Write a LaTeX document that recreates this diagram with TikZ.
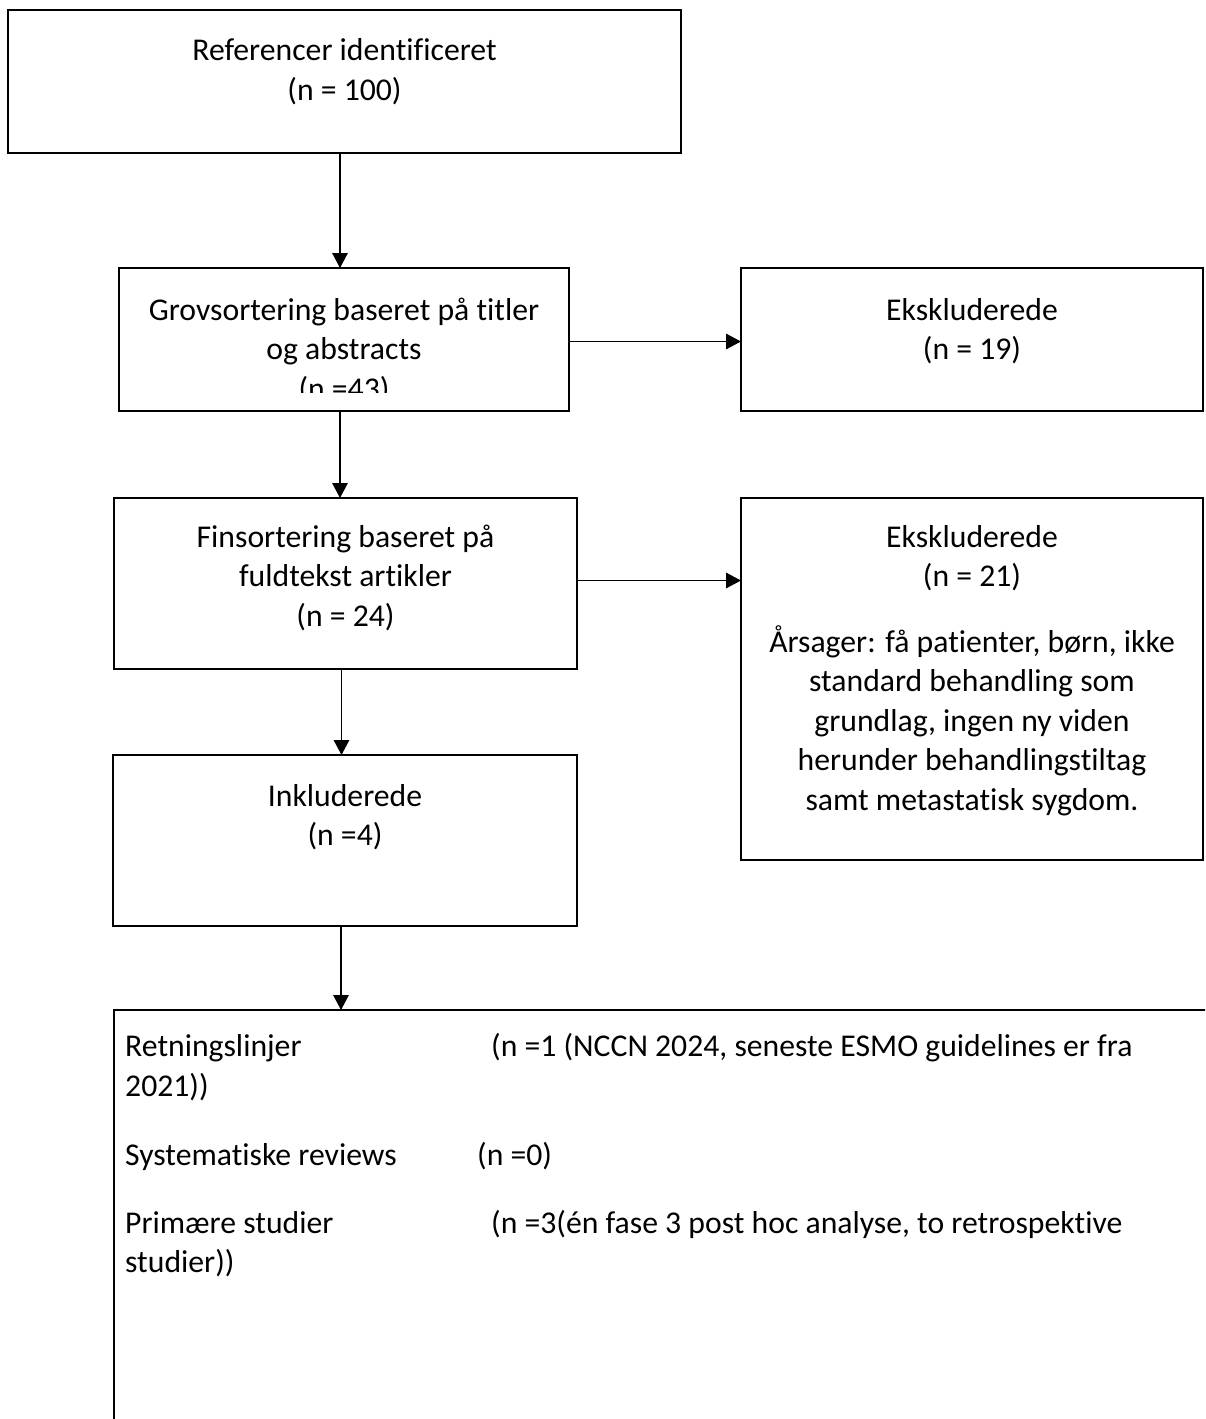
\documentclass[tikz,border=0pt]{standalone}
\usepackage{fontspec}
\setmainfont{Carlito}[Ligatures=NoCommon]
\usetikzlibrary{positioning,arrows.meta}

\begin{document}
\begin{tikzpicture}[
x=1pt, y=-1pt,
box/.style={draw, line width=1.8pt, inner sep=0pt, outer sep=0pt},
txt/.style={align=center, inner sep=0pt, font=\fontsize{31.7}{39.5}\selectfont},
line/.style={inner sep=0pt, anchor=base west, font=\fontsize{31.7}{39.5}\selectfont},
arr/.style={line width=1.5pt, -{Triangle[length=15pt,width=15.5pt]}}
]
\clip (0,0) rectangle (1205,1419);

% boxes
\node[box, minimum width=673pt, minimum height=143pt] (ref) at (344.5,81.5) {};
\node[box, minimum width=450pt, minimum height=143pt] (gro) at (344,339.5) {};
\node[box, minimum width=462pt, minimum height=143pt] (eks1) at (972,339.5) {};
\node[box, minimum width=463pt, minimum height=171pt] (fin) at (345.5,583.5) {};
\node[box, minimum width=462pt, minimum height=362pt] (eks2) at (972,679) {};
\node[box, minimum width=464pt, minimum height=171pt] (ink) at (345,840.5) {};
\node[box, minimum width=1101pt, minimum height=420pt] (res) at (664.5,1220) {};

% texts
\node[txt, below=23pt of ref.north] (refT) {\strut Referencer identificeret\\(n = 100)};
\begin{scope}
\clip (gro.north west) rectangle ([yshift=19pt]gro.south east);
\node[txt, below=24.35pt of gro.north] (groT) {\strut Grovsortering baseret på titler\\og abstracts\\(n =43)};
\end{scope}
\node[txt, below=24.35pt of eks1.north] (eks1T) {\strut Ekskluderede\\(n = 19)};
\node[txt, below=21.35pt of fin.north] (finT) {\strut Finsortering baseret på\\fuldtekst artikler\\(n = 24)};
\node[txt, below=21.35pt of eks2.north] (eks2T) {\strut Ekskluderede\\(n = 21)\\[26pt]Årsager: få patienter, børn, ikke\\standard behandling som\\grundlag, ingen ny viden\\herunder behandlingstiltag\\samt metastatisk sygdom.};
\node[txt, below=23.35pt of ink.north] (inkT) {\strut Inkluderede\\(n =4)};

\node[line] (retL) at (125,1056) {Retningslinjer};
\node[line] (retN) at (491,1056) {(n =1 (NCCN 2024, seneste ESMO guidelines er fra};
\node[line] (retY) at (125,1096) {2021))};
\node[line] (sysL) at (125,1165) {Systematiske reviews};
\node[line] (sysN) at (477,1165) {(n =0)};
\node[line] (priL) at (125,1233) {Primære studier};
\node[line] (priN) at (491,1233) {(n =3(én fase 3 post hoc analyse, to retrospektive};
\node[line] (priY) at (125,1272) {studier))};

% arrows
\draw[arr] ([xshift=-4pt]gro.north |- ref.south) -- ([xshift=-4pt]gro.north);
\draw[arr] ([xshift=-4pt]gro.south) -- ([xshift=-4pt]gro.south |- fin.north);
\draw[arr] ([xshift=-4pt]fin.south) -- ([xshift=-4pt]fin.south |- ink.north);
\draw[arr] ([xshift=-4pt]ink.south) -- ([xshift=-4pt]ink.south |- res.north);
\draw[arr] ([yshift=-2pt]gro.east) -- ([yshift=-2pt]gro.east -| eks1.west);
\draw[arr] ([yshift=3pt]fin.east) -- ([yshift=3pt]fin.east -| eks2.west);

\end{tikzpicture}
\end{document}
